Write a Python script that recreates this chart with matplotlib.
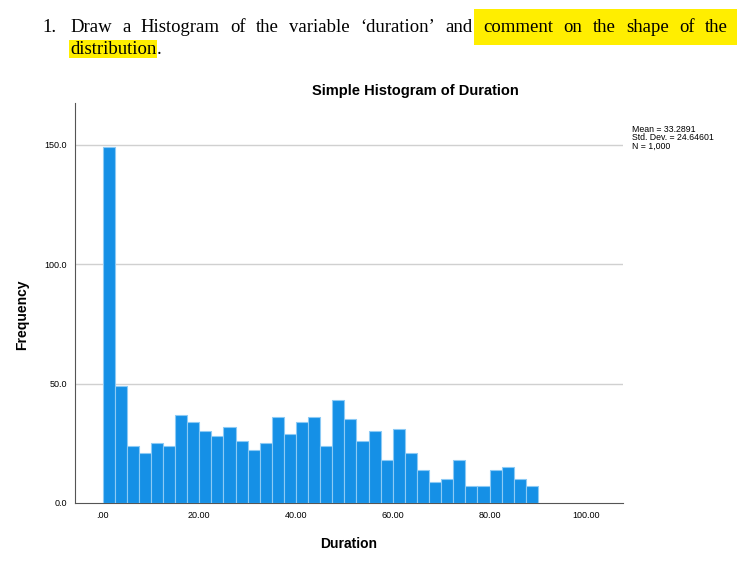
import numpy as np
import matplotlib.pyplot as plt

# histogram counts, bins of 2.5 starting at 0
counts = [149, 49, 24, 21, 25, 24, 37, 34, 30, 28, 32, 26, 22, 25, 36, 29, 34, 36,
          24, 43, 35, 26, 30, 18, 31, 21, 14, 9, 10, 18, 7, 7, 14, 15, 10, 7]
bin_width = 2.5
edges = np.arange(len(counts)) * bin_width
xticks = [0, 20, 40, 60, 80, 100]
xtick_labels = ['.00', '20.00', '40.00', '60.00', '80.00', '100.00']
yticks = [0, 50, 100, 150]
ytick_labels = ['0.0', '50.0', '100.0', '150.0']

plt.rcParams['font.family'] = ['Liberation Sans', 'DejaVu Sans']
fig = plt.figure(figsize=(7.53, 5.61), dpi=100)
renderer = fig.canvas.get_renderer()

# document question text above the chart (justified first line)
serif = 'Liberation Serif'
fs = 13.5
hl = dict(facecolor='#ffee00', edgecolor='none', pad=0.6)
y1 = 1 - 27 / 561
y2 = 1 - 49 / 561
fig.text(42 / 753, y1, '1.', family=serif, fontsize=fs, va='center')
words = 'Draw a Histogram of the variable \u2018duration\u2019 and comment on the shape of the'.split()
texts = []
for i, w in enumerate(words):
    t = fig.text(0, y1, w, family=serif, fontsize=fs, va='center')
    texts.append(t)
widths = [t.get_window_extent(renderer).width for t in texts]
left, right = 70, 728
gap = (right - left - sum(widths)) / (len(words) - 1)
x = left
for i, (t, w) in enumerate(zip(texts, widths)):
    t.set_x(x / 753)
    if i >= 8:
        t.set_bbox(dict(hl, pad=1.5 + gap / 2))
    x += w + gap
t2 = fig.text(70 / 753, y2, 'distribution', family=serif, fontsize=fs, va='center', bbox=hl)
w2 = t2.get_window_extent(renderer).width
fig.text((70 + w2) / 753, y2, '.', family=serif, fontsize=fs, va='center')

ax = fig.add_axes([75 / 753, 1 - 503 / 561, (623 - 75) / 753, (503 - 103) / 561])
ax.bar(edges, counts, width=bin_width, align='edge', color='#1590e6',
       edgecolor='#8ccaf5', linewidth=0.8, zorder=3)
ax.set_xlim(-5.7, 107.6)
ax.set_ylim(0, 167.5)
for y in yticks[1:]:
    ax.axhline(y, color='#d0d0d0', linewidth=1.0, zorder=1)
ax.set_xticks(xticks, xtick_labels, fontsize=6.5)
ax.set_yticks(yticks, ytick_labels, fontsize=6.5)
ax.tick_params(length=0, pad=6)
for s in ['top', 'right']:
    ax.spines[s].set_visible(False)
for s in ['left', 'bottom']:
    ax.spines[s].set_color('#555555')
    ax.spines[s].set_linewidth(0.8)

fig.text(415 / 753, 1 - 91 / 561, 'Simple Histogram of Duration', ha='center',
         va='center', fontsize=10.5, weight='bold')
fig.text(349 / 753, 1 - 544 / 561, 'Duration', ha='center', va='center',
         fontsize=10, weight='bold')
fig.text(22 / 753, 1 - 315 / 561, 'Frequency', ha='center', va='center',
         fontsize=10, weight='bold', rotation=90)
fig.text(632 / 753, 1 - 138 / 561, 'Mean = 33.2891\nStd. Dev. = 24.64601\nN = 1,000',
         ha='left', va='center', fontsize=6.3, linespacing=0.95)

fig.savefig('out.png', dpi=100)
